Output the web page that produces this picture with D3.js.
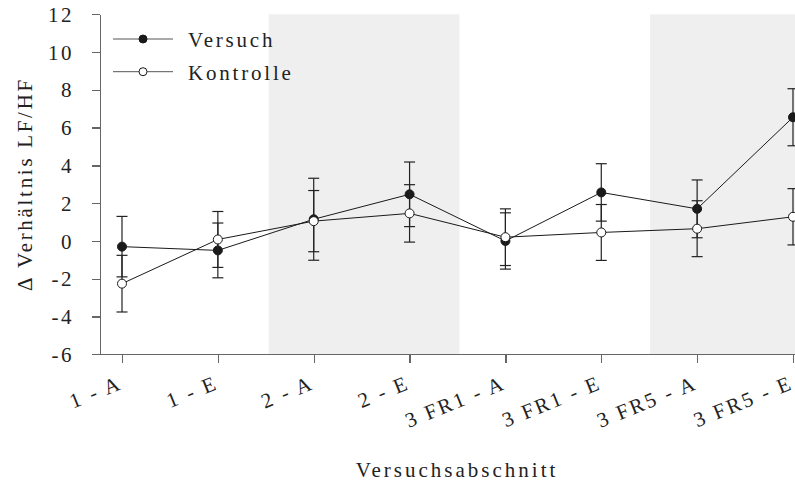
<!DOCTYPE html>
<html lang="de">
<head>
<meta charset="UTF-8">
<title>Verhältnis LF/HF</title>
<script src="https://d3js.org/d3.v7.min.js"></script>
<style>
  body { margin: 0; background: #fff; }
  .axis path, .axis line { stroke: #666; stroke-width: 1.3; shape-rendering: crispEdges; }
</style>
</head>
<body>
<script>

// data
var categories = ["1 - A", "1 - E", "2 - A", "2 - E", "3 FR1 - A", "3 FR1 - E", "3 FR5 - A", "3 FR5 - E"];
var seriesNames = ["Versuch", "Kontrolle"];
var versuch      = [-0.3, -0.5, 1.15, 2.47, 0.0, 2.57, 1.7, 6.55];
var versuchErr   = [1.6, 1.45, 2.17, 1.71, 1.49, 1.52, 1.53, 1.51];
var kontrolle    = [-2.26, 0.08, 1.05, 1.46, 0.2, 0.45, 0.65, 1.28];
var kontrolleErr = [1.5, 1.48, 1.62, 1.52, 1.5, 1.48, 1.48, 1.49];
var yTicks = [-6, -4, -2, 0, 2, 4, 6, 8, 10, 12];
// shaded phases (in category index units)
var bands = [[1.53, 3.52], [5.51, 7.1]];

var width = 795, height = 484;
var serif = "'Liberation Serif'";

function txt(sel, size, spacing) {
    return sel.style("font-family", serif)
        .style("font-size", size + "px")
        .style("letter-spacing", spacing + "px")
        .attr("fill", "#222");
}

var svg = d3.select("body").append("svg")
    .attr("width", width)
    .attr("height", height);

var x = d3.scaleLinear().domain([-0.2295, 7.021]).range([100, 795]);
var y = d3.scaleLinear().domain([-6, 12]).range([354.3, 14.3]);

// gray bands
svg.selectAll(".band")
    .data(bands)
    .enter().append("rect")
    .attr("class", "band")
    .attr("x", function(d) { return x(d[0]); })
    .attr("width", function(d) { return Math.min(x(d[1]), width) - x(d[0]); })
    .attr("y", y(12))
    .attr("height", y(-6) - y(12))
    .attr("fill", "#efefef");

// axes
var xAxis = d3.axisBottom(x)
    .tickValues(d3.range(categories.length))
    .tickFormat(function(i) { return categories[i]; })
    .tickSizeOuter(0)
    .tickSizeInner(9);

var xt = svg.append("g")
    .attr("class", "x axis")
    .attr("transform", "translate(0," + y(-6) + ")")
    .call(xAxis)
    .selectAll("text")
        .attr("x", 0)
        .attr("y", 0)
        .attr("dy", 0)
        .style("text-anchor", "end")
        .attr("transform", "translate(1,34) rotate(-22)");
txt(xt, 21, 2.5);

var yAxis = d3.axisLeft(y)
    .tickValues(yTicks)
    .tickFormat(function(d) { return String(d); })
    .tickSizeOuter(0)
    .tickSizeInner(8)
    .tickPadding(18);

var yt = svg.append("g")
    .attr("class", "y axis")
    .attr("transform", "translate(" + x.range()[0] + ",0)")
    .call(yAxis)
    .selectAll("text")
        .attr("dy", "0.34em");
txt(yt, 21, 2.5);

// axis titles
txt(svg.append("text")
    .attr("transform", "translate(32,184) rotate(-90)")
    .attr("text-anchor", "middle")
    .text("\u0394 Verhältnis LF/HF"), 21, 2.7);

txt(svg.append("text")
    .attr("x", 457)
    .attr("y", 477)
    .attr("text-anchor", "middle")
    .text("Versuchsabschnitt"), 21, 3);

// series
var series = [
    {name: seriesNames[0], values: versuch, errors: versuchErr, fill: "#1a1a1a"},
    {name: seriesNames[1], values: kontrolle, errors: kontrolleErr, fill: "#fff"}
];

var line = d3.line()
    .x(function(d, i) { return x(i); })
    .y(function(d) { return y(d); });

series.forEach(function(s) {
    var g = svg.append("g").attr("class", "series");

    var err = g.selectAll(".err")
        .data(s.values)
        .enter().append("g")
        .attr("class", "err")
        .attr("stroke", "#222")
        .attr("stroke-width", 1.2);

    err.append("line")
        .attr("x1", function(d, i) { return x(i); })
        .attr("x2", function(d, i) { return x(i); })
        .attr("y1", function(d, i) { return y(d + s.errors[i]); })
        .attr("y2", function(d, i) { return y(d - s.errors[i]); });

    [1, -1].forEach(function(sign) {
        err.append("line")
            .attr("x1", function(d, i) { return x(i) - 5.5; })
            .attr("x2", function(d, i) { return x(i) + 5.5; })
            .attr("y1", function(d, i) { return y(d + sign * s.errors[i]); })
            .attr("y2", function(d, i) { return y(d + sign * s.errors[i]); });
    });

    g.append("path")
        .datum(s.values)
        .attr("fill", "none")
        .attr("stroke", "#1a1a1a")
        .attr("stroke-width", 1)
        .attr("d", line);

    g.selectAll(".pt")
        .data(s.values)
        .enter().append("circle")
        .attr("class", "pt")
        .attr("cx", function(d, i) { return x(i); })
        .attr("cy", function(d) { return y(d); })
        .attr("r", 4.5)
        .attr("fill", s.fill)
        .attr("stroke", "#1a1a1a")
        .attr("stroke-width", 1);
});

// legend
var legend = svg.selectAll(".legend")
    .data(series)
    .enter().append("g")
    .attr("class", "legend")
    .attr("transform", function(d, i) { return "translate(0," + (39 + i * 32.7) + ")"; });

legend.append("line")
    .attr("x1", 113).attr("x2", 173)
    .attr("stroke", "#555").attr("stroke-width", 1);

legend.append("circle")
    .attr("cx", 143)
    .attr("r", 4)
    .attr("fill", function(d) { return d.fill; })
    .attr("stroke", "#1a1a1a");

txt(legend.append("text")
    .attr("x", 188)
    .attr("y", 8.3)
    .text(function(d) { return d.name; }), 21, 2.8);

</script>
</body>
</html>
